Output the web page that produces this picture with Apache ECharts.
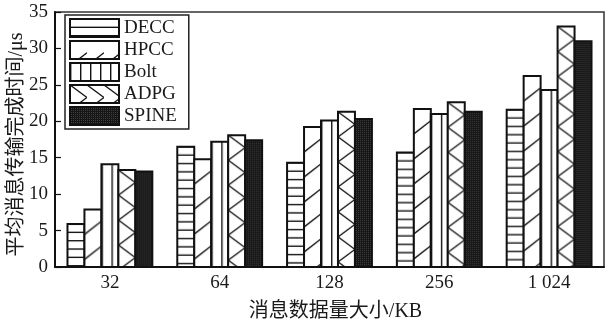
<!DOCTYPE html>
<html>
<head>
<meta charset="utf-8">
<script src="https://cdn.jsdelivr.net/npm/echarts@6/dist/echarts.min.js"></script>
<style>
  html, body { margin: 0; padding: 0; background: #fff; }
  #chart { width: 605px; height: 324px; }
</style>
</head>
<body>
<div id="chart"></div>
<script>
// Message sizes (KB) on the x axis
const categories = ['32', '64', '128', '256', '1 024'];
// Average message transfer completion time (μs) per scheme
const seriesNames = ['DECC', 'HPCC', 'Bolt', 'ADPG', 'SPINE'];
const decc  = [5.9, 16.5, 14.3, 15.7, 21.6];
const hpcc  = [7.9, 14.8, 19.2, 21.7, 26.2];
const bolt  = [14.1, 17.2, 20.1, 21.0, 24.3];
const adpg  = [13.3, 18.1, 21.3, 22.6, 33.0];
const spine = [13.1, 17.4, 20.3, 21.3, 31.0];
const yTicks = [0, 5, 10, 15, 20, 25, 30, 35];

const seriesValues = [decc, hpcc, bolt, adpg, spine];

const SERIF = "'Liberation Serif', 'Times New Roman', 'Noto Sans CJK SC', serif";
const INK = '#111';
const TEXT = '#1a1a1a';
const BAR_FRAC = 17 / 110;   // bar width as a share of one category band
const TILE_W = 17;           // hatch tile width, stretched to the bar width

// ---- hatch tiles -------------------------------------------------------
function tile(w, h, draw) {
  const c = document.createElement('canvas');
  c.width = w; c.height = h;
  const g = c.getContext('2d');
  g.fillStyle = '#fff';
  g.fillRect(0, 0, w, h);
  g.strokeStyle = INK;
  g.fillStyle = INK;
  g.lineWidth = 1.4;
  draw(g, w, h);
  return c;
}
function seg(g, x1, y1, x2, y2) {
  g.beginPath(); g.moveTo(x1, y1); g.lineTo(x2, y2); g.stroke();
}

const tiles = [
  // horizontal stripes
  tile(TILE_W, 25, (g, w) => { [0, 8.33, 16.67, 25].forEach(y => seg(g, 0, y, w, y)); }),
  // single rising diagonal
  tile(TILE_W, 25, (g, w) => { seg(g, 0, 0, w, -13.3); seg(g, 0, 25, w, 11.7); }),
  // vertical stripes
  tile(10, 10, (g) => { g.fillRect(0, 0, 1.4, 10); }),
  // zigzag
  tile(TILE_W, 25, (g, w) => { seg(g, 0, 0, w, 12.5); seg(g, w, 12.5, 0, 25); }),
  // dense dark stipple
  (() => {
    const c = document.createElement('canvas');
    c.width = 2; c.height = 2;
    const g = c.getContext('2d');
    g.fillStyle = '#161616'; g.fillRect(0, 0, 2, 2);
    g.fillStyle = '#3e3e3e'; g.fillRect(1, 1, 1, 1);
    return c;
  })()
];

function pattern(i, x, y, sx) {
  return { image: tiles[i], repeat: 'repeat', x: x || 0, y: y || 0, scaleX: sx || 1 };
}

// ---- bars drawn through the category / value scales ---------------------
function renderBar(params, api) {
  const si = params.seriesIndex;
  const cat = api.value(0);
  const val = api.value(1);
  const base = api.coord([cat, 0]);
  const top = api.coord([cat, val]);
  const band = api.size([1, 0])[0];
  const w = band * BAR_FRAC;
  const x = base[0] + (si - seriesNames.length / 2) * w;
  const y = top[1];
  const stretch = (si === 0 || si === 1 || si === 3) ? w / TILE_W : 1;
  return {
    type: 'rect',
    shape: { x: x, y: y, width: w, height: base[1] - y },
    style: {
      fill: pattern(si, si === 2 ? x + 10 : x, y, stretch),
      stroke: INK,
      lineWidth: 2
    }
  };
}

const series = seriesNames.map((name, si) => ({
  name: name,
  type: 'custom',
  renderItem: renderBar,
  itemStyle: { color: pattern(si), borderColor: INK, borderWidth: 2 },
  encode: { x: 0, y: 1 },
  data: seriesValues[si].map((v, ci) => [ci, v])
}));

const chart = echarts.init(document.getElementById('chart'), null, { renderer: 'canvas' });
chart.setOption({
  animation: false,
  backgroundColor: '#fff',
  grid: {
    left: 55, right: 1, top: 12, bottom: 57,
    containLabel: false,
    outerBoundsMode: 'none',
    show: true, borderColor: '#333', borderWidth: 1.5
  },
  legend: {
    orient: 'vertical',
    left: 65, top: 15,
    padding: [3, 12, 3, 4],
    itemWidth: 49, itemHeight: 18, itemGap: 2,
    icon: 'rect',
    borderColor: '#222', borderWidth: 1.5,
    backgroundColor: '#fff',
    itemStyle: { borderColor: INK, borderWidth: 2 },
    textStyle: { fontFamily: SERIF, fontSize: 19, color: TEXT, lineHeight: 18 },
    data: seriesNames
  },
  xAxis: {
    type: 'category',
    data: categories,
    z: 3,
    name: '消息数据量大小/KB',
    nameLocation: 'middle',
    nameGap: 35,
    nameMoveOverlap: false,
    nameTextStyle: { fontFamily: SERIF, fontSize: 20, color: TEXT, padding: [0, 0, 0, 12] },
    axisLine: { lineStyle: { color: INK, width: 2 } },
    axisTick: { inside: true, alignWithLabel: true, length: 4, lineStyle: { color: INK, width: 1.2 } },
    axisLabel: { fontFamily: SERIF, fontSize: 19, color: TEXT, margin: 7 },
    splitLine: { show: false }
  },
  yAxis: {
    type: 'value',
    min: yTicks[0], max: yTicks[yTicks.length - 1], interval: yTicks[1] - yTicks[0],
    name: '平均消息传输完成时间/μs',
    nameLocation: 'middle',
    nameRotate: 90,
    nameGap: 28,
    nameMoveOverlap: false,
    nameTextStyle: { fontFamily: SERIF, fontSize: 20, color: TEXT, padding: [0, 10, 0, 0] },
    axisLine: { show: true, lineStyle: { color: INK, width: 2 } },
    axisTick: { show: true, inside: true, length: 6, lineStyle: { color: INK, width: 1.2 } },
    axisLabel: { fontFamily: SERIF, fontSize: 19, color: TEXT, margin: 7 },
    splitLine: { show: false }
  },
  series: series
});
</script>
</body>
</html>
